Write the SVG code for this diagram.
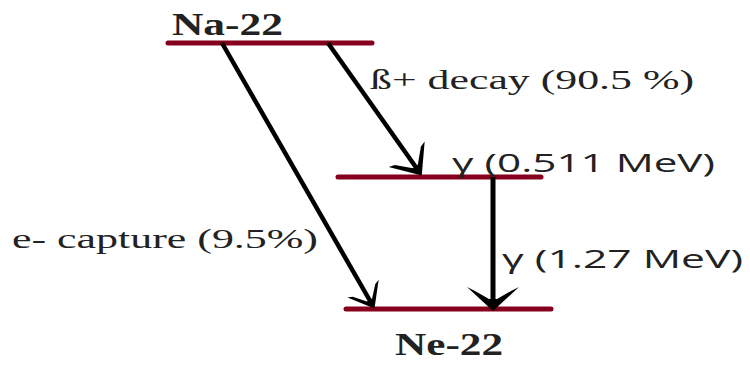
<svg xmlns="http://www.w3.org/2000/svg" width="750" height="365" viewBox="0 0 750 365">
<style>
.lvl{stroke:#85001c;stroke-width:5;stroke-linecap:round;fill:none}
.arr{stroke:#000;stroke-width:4.5;fill:none;marker-end:url(#ah)}
.serif{font-family:"Liberation Serif","Times New Roman",serif;fill:#222}
.sans{font-family:"Open Sans","DejaVu Sans",sans-serif;fill:#222}
.bold{font-weight:bold}
</style>
<defs>
<marker id="ah" markerUnits="userSpaceOnUse" orient="auto" refX="0" refY="0" markerWidth="60" markerHeight="60" viewBox="-30 -30 60 60" overflow="visible">
<path d="M3,0 L-23,-22 L-21,-16 L-8,-3 L-8,3 L-21,16 L-23,22 Z" fill="#000"/>
</marker>
<marker id="ahs" markerUnits="userSpaceOnUse" orient="auto" refX="0" refY="0" markerWidth="60" markerHeight="60" viewBox="-30 -30 60 60" overflow="visible">
<path d="M3,0 L-20,-18 L-18,-13 L-7,-3 L-7,3 L-18,13 L-20,18 Z" fill="#000"/>
</marker>
<marker id="ahb" markerUnits="userSpaceOnUse" orient="auto" refX="0" refY="0" markerWidth="60" markerHeight="60" viewBox="-30 -30 60 60" overflow="visible">
<path d="M3,0 L-21,-26 L-17,-18 L-9,-4 L-9,4 L-17,18 L-21,26 Z" fill="#000"/>
</marker>
</defs>
<g id="levels">
<g id="na22"><line class="lvl" x1="168" y1="43" x2="372" y2="43"/><text class="serif bold" x="172" y="35" font-size="31" textLength="111" lengthAdjust="spacingAndGlyphs">Na-22</text></g>
<g id="excited"><line class="lvl" x1="338" y1="177" x2="541" y2="177"/></g>
<g id="ne22"><line class="lvl" x1="346" y1="309" x2="551" y2="309"/><text class="serif bold" x="395" y="355" font-size="31" textLength="108" lengthAdjust="spacingAndGlyphs">Ne-22</text></g>
</g>
<g id="connectors">
<path class="arr" d="M222,43 L373,306" style="marker-end:url(#ahs)"/>
<path class="arr" d="M328,43 L420,173"/>
<path class="arr" d="M493,177 L493,308" style="stroke-width:5;marker-end:url(#ahb)"/>
</g>
<g id="labels">
<text class="serif" x="370" y="89" font-size="28" textLength="324" lengthAdjust="spacingAndGlyphs">ß+ decay (90.5 %)</text>
<text class="serif" x="12" y="248" font-size="28" textLength="306" lengthAdjust="spacingAndGlyphs">e- capture (9.5%)</text>
<text class="sans" x="452" y="172" font-size="26" textLength="263" lengthAdjust="spacingAndGlyphs">γ (0.511 MeV)</text>
<text class="sans" x="502" y="268" font-size="26" textLength="241" lengthAdjust="spacingAndGlyphs">γ (1.27 MeV)</text>
</g>
</svg>
